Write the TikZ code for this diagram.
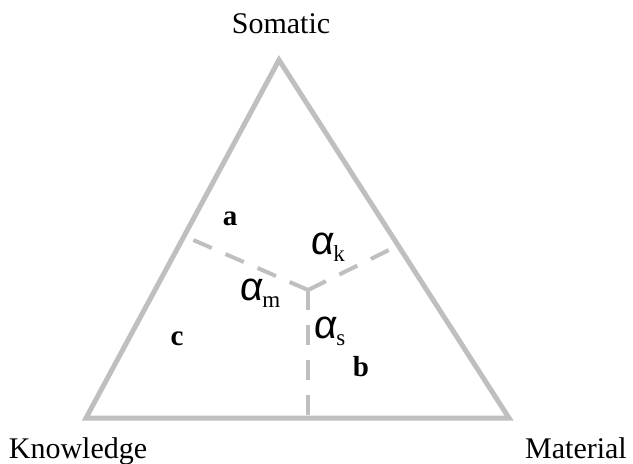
\documentclass[tikz,border=0pt]{standalone}
\usepackage{fontspec}
\setmainfont{Liberation Serif}
\newfontfamily\pAlphaFont[FakeSlant=0.08]{Liberation Sans}
\newcommand{\pAlpha}[1]{{\pAlphaFont\fontsize{40}{40}\selectfont α}\raisebox{-7pt}{\fontsize{23}{23}\selectfont #1}}

\begin{document}
\begin{tikzpicture}[x=1pt,y=-1pt,
  lbl/.style={anchor=base, inner sep=0pt, font=\fontsize{30}{32}\selectfont},
  reg/.style={anchor=base, inner sep=0pt, font=\fontsize{29}{31}\selectfont\bfseries},
  ang/.style={anchor=base west, inner sep=0pt},
  edge/.style={draw=black!25, line width=5pt, line join=miter},
  divide/.style={draw=black!25, line width=4pt, dash pattern=on 20pt off 15pt}]
\useasboundingbox (0,0) rectangle (633,464);
\coordinate (som) at (279,60);
\coordinate (kno) at (86,418);
\coordinate (mat) at (509,418);
\coordinate (ctr) at (308,290);
\coordinate (lft) at (191,239);
\coordinate (rgt) at (393,248);
\coordinate (bot) at (308,416);
\draw[edge] (som) -- (kno) -- (mat) -- cycle;
\draw[divide] (ctr) -- (lft);
\draw[divide] (ctr) -- (rgt);
\draw[divide] (ctr) -- (bot);
\node[lbl] (somL) at (281,33) {Somatic};
\node[lbl] (knoL) at (78,458) {Knowledge};
\node[lbl] (matL) at (576,458) {Material};
\node[reg] (ra) at (230,225) {a};
\node[reg] (rb) at (361,376) {b};
\node[reg] (rc) at (177,345) {c};
\node[ang] (ak) at (310,254) {\pAlpha{k}};
\node[ang] (am) at (239,300) {\pAlpha{m}};
\node[ang] (as) at (313,338) {\pAlpha{s}};
\end{tikzpicture}
\end{document}
